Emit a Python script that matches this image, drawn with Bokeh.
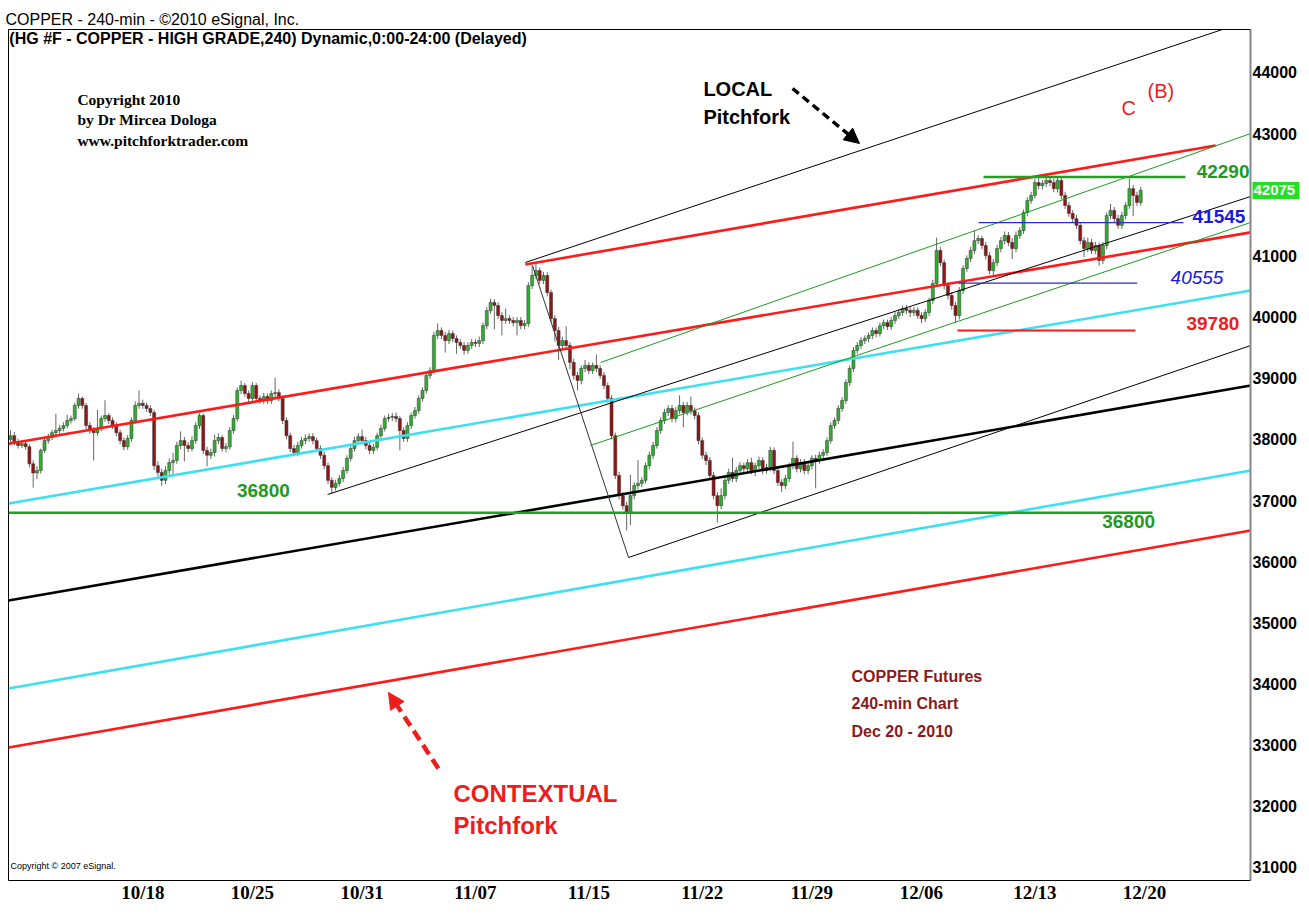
from bokeh.plotting import figure
from bokeh.models import Label, Arrow, NormalHead, FixedTicker, Range1d, LinearAxis
from bokeh.embed import file_html
from bokeh.resources import INLINE

# ---------------- data ----------------
tick_positions = [35, 64, 93, 123, 153, 183, 212, 241, 271, 300]
tick_labels = ["10/18", "10/25", "10/31", "11/07", "11/15", "11/22", "11/29", "12/06", "12/13", "12/20"]
price_ticks = [31000, 32000, 33000, 34000, 35000, 36000, 37000, 38000, 39000, 40000, 41000, 42000, 43000, 44000]

opens = [
    38000, 38060, 37960, 37900, 37930, 37880, 37600, 37450, 37490, 37820,
    37980, 38030, 38110, 38145, 38180, 38225, 38310, 38340, 38555, 38670,
    38555, 38225, 38145, 38110, 38180, 38340, 38390, 38310, 38225, 38110,
    37980, 37880, 38015, 38310, 38555, 38590, 38555, 38505, 38440, 37570,
    37460, 37330, 37490, 37620, 37655, 37900, 37980, 37900, 37850, 37980,
    38225, 38390, 37820, 37740, 37785, 37980, 38030, 37850, 37880, 38145,
    38340, 38800, 38880, 38750, 38670, 38880, 38670, 38635, 38700, 38635,
    38750, 38765, 38670, 38310, 38060, 37850, 37785, 37900, 37980, 38015,
    38045, 37980, 37850, 37740, 37570, 37330, 37215, 37280, 37360, 37490,
    37690, 37850, 37980, 38045, 37980, 37900, 37820, 37870, 38060, 38180,
    38340, 38360, 38375, 38340, 38145, 38015, 38225, 38390, 38470, 38670,
    38800, 39045, 39125, 39700, 39780, 39700, 39615, 39730, 39650, 39585,
    39535, 39455, 39535, 39585, 39570, 39615, 39860, 40105, 40240, 40190,
    40025, 39945, 39975, 39945, 39910, 39945, 39860, 39895, 40515, 40680,
    40760, 40600, 40680, 40400, 39975, 39780, 39535, 39615, 39535, 39260,
    39045, 38965, 39160, 39210, 39125, 39210, 39160, 39045, 38880, 38670,
    38060, 37410, 37080, 36915, 36790, 37080, 37245, 37280, 37330, 37570,
    37740, 37900, 38145, 38310, 38440, 38505, 38340, 38470, 38555, 38440,
    38555, 38470, 38390, 37980, 37740, 37655, 37410, 37080, 36915, 37080,
    37330, 37460, 37360, 37490, 37570, 37520, 37620, 37490, 37570, 37655,
    37490, 37540, 37820, 37490, 37295, 37245, 37360, 37570, 37690, 37520,
    37620, 37490, 37570, 37690, 37655, 37740, 37785, 37980, 38225, 38310,
    38505, 38635, 38930, 39160, 39455, 39535, 39615, 39650, 39700, 39780,
    39730, 39860, 39910, 39845, 39945, 40025, 40075, 40140, 40110, 40075,
    40110, 40025, 39975, 40075, 40270, 40550, 41090, 40890, 40515, 40355,
    40190, 40025, 40435, 40795, 40960, 41090, 41250, 41285, 41170, 41005,
    40760, 40890, 41120, 41250, 41335, 41220, 41120, 41335, 41415, 41710,
    41905, 41990, 42200, 42150, 42185, 42235, 42200, 42100, 42235, 41990,
    41825, 41695, 41610, 41500, 41250, 41120, 41220, 41090, 41170, 40925,
    41170, 41660, 41745, 41610, 41500, 41660, 41825, 42100, 41990, 41875,
]
closes = [
    38060, 37960, 37900, 37930, 37880, 37600, 37450, 37490, 37820, 37980,
    38030, 38110, 38145, 38180, 38225, 38310, 38340, 38555, 38670, 38555,
    38225, 38145, 38110, 38180, 38340, 38390, 38310, 38225, 38110, 37980,
    37880, 38015, 38310, 38555, 38590, 38555, 38505, 38440, 37570, 37460,
    37330, 37490, 37620, 37655, 37900, 37980, 37900, 37850, 37980, 38225,
    38390, 37820, 37740, 37785, 37980, 38030, 37850, 37880, 38145, 38340,
    38800, 38880, 38750, 38670, 38880, 38670, 38635, 38700, 38635, 38750,
    38765, 38670, 38310, 38060, 37850, 37785, 37900, 37980, 38015, 38045,
    37980, 37850, 37740, 37570, 37330, 37215, 37280, 37360, 37490, 37690,
    37850, 37980, 38045, 37980, 37900, 37820, 37870, 38060, 38180, 38340,
    38360, 38375, 38340, 38145, 38015, 38225, 38390, 38470, 38670, 38800,
    39045, 39125, 39700, 39780, 39700, 39615, 39730, 39650, 39585, 39535,
    39455, 39535, 39585, 39570, 39615, 39860, 40105, 40240, 40190, 40025,
    39945, 39975, 39945, 39910, 39945, 39860, 39895, 40515, 40680, 40760,
    40600, 40680, 40400, 39975, 39780, 39535, 39615, 39535, 39260, 39045,
    38965, 39160, 39210, 39125, 39210, 39160, 39045, 38880, 38670, 38060,
    37410, 37080, 36915, 36790, 37080, 37245, 37280, 37330, 37570, 37740,
    37900, 38145, 38310, 38440, 38505, 38340, 38470, 38555, 38440, 38555,
    38470, 38390, 37980, 37740, 37655, 37410, 37080, 36915, 37080, 37330,
    37460, 37360, 37490, 37570, 37520, 37620, 37490, 37570, 37655, 37490,
    37540, 37820, 37490, 37295, 37245, 37360, 37570, 37690, 37520, 37620,
    37490, 37570, 37690, 37655, 37740, 37785, 37980, 38225, 38310, 38505,
    38635, 38930, 39160, 39455, 39535, 39615, 39650, 39700, 39780, 39730,
    39860, 39910, 39845, 39945, 40025, 40075, 40140, 40110, 40075, 40110,
    40025, 39975, 40075, 40270, 40550, 41090, 40890, 40515, 40355, 40190,
    40025, 40435, 40795, 40960, 41090, 41250, 41285, 41170, 41005, 40760,
    40890, 41120, 41250, 41335, 41220, 41120, 41335, 41415, 41710, 41905,
    41990, 42200, 42150, 42185, 42235, 42200, 42100, 42235, 41990, 41825,
    41695, 41610, 41500, 41250, 41120, 41220, 41090, 41170, 40925, 41170,
    41660, 41745, 41610, 41500, 41660, 41825, 42100, 41990, 41875, 42075,
]
highs = [
    38150, 38120, 38010, 37990, 37980, 37920, 37660, 37560, 37850, 38040,
    38090, 38160, 38420, 38240, 38280, 38400, 38390, 38600, 38750, 38700,
    38600, 38280, 38200, 38480, 38390, 38640, 38430, 38360, 38280, 38160,
    38030, 38070, 38360, 38620, 38800, 38650, 38600, 38560, 38480, 37640,
    37520, 37560, 37690, 37780, 37960, 38130, 38040, 37960, 38050, 38280,
    38430, 38420, 37880, 37850, 38080, 38100, 38070, 37940, 38200, 38400,
    38850, 38960, 38920, 38800, 38940, 38920, 38720, 38760, 38750, 38800,
    39010, 38820, 38720, 38360, 38110, 37910, 37960, 38040, 38080, 38100,
    38100, 38030, 37900, 37800, 37620, 37380, 37340, 37420, 37550, 37740,
    37900, 38040, 38100, 38160, 38040, 37960, 37930, 38110, 38240, 38390,
    38420, 38430, 38440, 38380, 38200, 38280, 38440, 38530, 38720, 38850,
    39100, 39180, 39760, 39895, 39830, 39760, 39790, 39780, 39700, 39640,
    39590, 39590, 39640, 39640, 39680, 39910, 40160, 40300, 40290, 40240,
    40080, 40140, 40030, 40000, 40000, 40000, 39950, 40570, 40840, 40890,
    40810, 40740, 40730, 40450, 40030, 39840, 39680, 39850, 39590, 39320,
    39100, 39210, 39300, 39260, 39260, 39390, 39210, 39100, 38930, 38720,
    38110, 37470, 37140, 36980, 37420, 37300, 37660, 37380, 37620, 37800,
    37960, 38200, 38360, 38500, 38560, 38560, 38530, 38720, 38610, 38610,
    38700, 38520, 38440, 38030, 37800, 37710, 37470, 37140, 37200, 37380,
    37520, 37700, 37550, 37630, 37620, 37680, 37700, 37620, 37720, 37710,
    37600, 37880, 37870, 37540, 37350, 37420, 37620, 37960, 37740, 37680,
    37680, 37630, 37740, 37750, 37800, 37840, 38030, 38280, 38360, 38560,
    38690, 38980, 39210, 39510, 39590, 39670, 39700, 39750, 39830, 39830,
    39910, 39960, 39960, 40000, 40080, 40130, 40190, 40200, 40160, 40160,
    40160, 40080, 40130, 40320, 40610, 41300, 41150, 40940, 40570, 40410,
    40250, 40490, 40850, 41010, 41150, 41420, 41340, 41330, 41230, 41060,
    40950, 41180, 41310, 41400, 41390, 41290, 41400, 41470, 41760, 41960,
    42050, 42260, 42290, 42240, 42315, 42290, 42260, 42310, 42290, 42050,
    41880, 41750, 41670, 41550, 41310, 41300, 41280, 41230, 41220, 41230,
    41710, 41850, 41800, 41670, 41720, 41880, 42265, 42160, 42050, 42130,
]
lows = [
    37940, 37900, 37850, 37860, 37830, 37540, 37210, 37350, 37440, 37780,
    37930, 37990, 38060, 38090, 38130, 38180, 38260, 38300, 38500, 38500,
    38170, 38090, 37655, 38060, 38130, 38290, 38250, 38170, 38050, 37920,
    37820, 37830, 37960, 38260, 38500, 38500, 38450, 38380, 37500, 37390,
    37240, 37270, 37420, 37420, 37600, 37840, 37640, 37790, 37800, 37930,
    38170, 37760, 37560, 37680, 37720, 37920, 37800, 37790, 37830, 38090,
    38290, 38740, 38700, 38610, 38620, 38610, 38580, 38580, 38580, 38580,
    38690, 38620, 38250, 38000, 37790, 37720, 37730, 37850, 37920, 37960,
    37920, 37790, 37680, 37510, 37270, 37115, 37160, 37230, 37300, 37440,
    37640, 37800, 37930, 37920, 37840, 37760, 37760, 37820, 38000, 38130,
    38290, 38300, 38280, 37820, 37960, 37960, 38170, 38340, 38420, 38620,
    38750, 38990, 39080, 39640, 39640, 39420, 39560, 39590, 39400, 39480,
    39390, 39400, 39480, 39510, 39510, 39560, 39800, 40050, 39800, 39970,
    39700, 39890, 39890, 39850, 39700, 39800, 39800, 39840, 40460, 40620,
    40540, 40540, 40340, 39920, 39600, 39300, 39480, 39480, 39150, 38980,
    38800, 38900, 39100, 39070, 39070, 39100, 38990, 38820, 38600, 38000,
    37350, 37020, 36850, 36510, 36600, 37020, 37180, 37220, 37280, 37510,
    37680, 37850, 38090, 38250, 38380, 38280, 38280, 38410, 38200, 38390,
    38410, 38330, 37920, 37680, 37580, 37350, 37020, 36640, 36860, 37020,
    37270, 37300, 37300, 37430, 37460, 37460, 37430, 37400, 37510, 37430,
    37440, 37480, 37430, 37240, 37140, 37190, 37300, 37510, 37460, 37460,
    37430, 37430, 37510, 37200, 37600, 37690, 37730, 37930, 38170, 38250,
    38450, 38580, 38870, 39100, 39400, 39480, 39560, 39590, 39640, 39670,
    39680, 39800, 39790, 39790, 39890, 39970, 40020, 40050, 40000, 40020,
    39970, 39900, 39920, 40020, 40210, 40500, 40830, 40450, 40290, 40120,
    39910, 39960, 40380, 40740, 40900, 41030, 41190, 41110, 40940, 40700,
    40660, 40830, 41060, 41190, 41160, 40950, 41060, 41280, 41360, 41650,
    41850, 41940, 42090, 42090, 42130, 42140, 42040, 42040, 41930, 41770,
    41640, 41550, 41440, 41190, 40980, 41060, 41030, 41030, 40840, 40870,
    41110, 41600, 41550, 41440, 41440, 41600, 41770, 41650, 41820, 41820,
]

# trend lines: (x0 bar, y0 price, x1 bar, y1 price)
contextual_median = [-0.5, 35365, 328.1, 38881]
contextual_upper = [-0.5, 37930, 328.1, 41385]
contextual_lower = [-0.5, 32960, 328.1, 36510]
cyan_upper = [-0.5, 36951, 328.1, 40435]
cyan_lower = [-0.5, 33926, 328.1, 37491]
red_warning = [136.2, 40860, 318.8, 42806]
local_upper = [136.2, 40893, 320.6, 44703]
local_median = [83.9, 37099, 328.1, 41972]
local_lower = [163.5, 36068, 328.1, 39535]
local_pivot = [138.1, 40843, 163.5, 36068]
green_upper = [156.1, 39257, 328.1, 43002]
green_lower = [153.4, 37900, 328.1, 41547]
levels = {"36800": (36800, -0.5, 302.1), "42290": (42290, 257.4, 310.8),
          "41545": (41545, 256.1, 310.3), "40555": (40555, 250.8, 298.1),
          "39780": (39780, 250.5, 297.6)}
last_price = 42075

# ---------------- figure ----------------
FONT = "Liberation Sans"
p = figure(width=1305, height=915, output_backend="svg", toolbar_location=None,
           x_range=Range1d(-0.53, 328.04), y_range=Range1d(30786, 44703),
           y_axis_location="right", min_border_left=8, min_border_right=55,
           min_border_top=29, min_border_bottom=35)
p.grid.visible = False
p.outline_line_color = "black"
p.outline_line_width = 1

p.title.text = "COPPER - 240-min - \u00a92010 eSignal, Inc."
p.title.text_font = FONT
p.title.text_font_size = "16px"
p.title.text_font_style = "normal"
p.title.text_color = "black"
p.title.align = "left"
p.title.offset = -3
p.title.standoff = 4

xa = p.xaxis[0]
xa.ticker = FixedTicker(ticks=tick_positions)
xa.major_label_overrides = {t: l for t, l in zip(tick_positions, tick_labels)}
xa.major_tick_in = 0
xa.major_tick_out = 0
xa.minor_tick_in = 0
xa.minor_tick_out = 0
xa.axis_line_color = None
xa.major_label_standoff = 1
xa.major_label_text_font = "Liberation Sans Narrow"
xa.major_label_text_font_style = "bold"
xa.major_label_text_font_size = "19px"
xa.major_label_text_color = "black"

ya = p.yaxis[0]
ya.ticker = FixedTicker(ticks=price_ticks)
ya.major_label_overrides = {42000: ""}
ya.major_tick_in = 0
ya.major_tick_out = 0
ya.minor_tick_in = 0
ya.minor_tick_out = 0
ya.axis_line_color = "#888888"
ya.axis_line_width = 2
ya.major_label_standoff = 2
ya.major_label_text_font = FONT
ya.major_label_text_font_style = "bold"
ya.major_label_text_font_size = "16px"
ya.major_label_text_color = "black"

# last-price marker: an outer price axis whose single tick is drawn back
# over the price scale as a green box, with its label inside it
lp = LinearAxis(ticker=FixedTicker(ticks=[last_price]))
lp.axis_line_color = None
lp.minor_tick_in = 0
lp.minor_tick_out = 0
lp.major_tick_out = 0
lp.major_tick_in = 47
lp.major_tick_line_color = "#22e022"
lp.major_tick_line_width = 17
lp.major_label_standoff = -46
lp.major_label_text_font = FONT
lp.major_label_text_font_style = "bold"
lp.major_label_text_font_size = "15px"
lp.major_label_text_color = "white"
p.add_layout(lp, "right")

# candles
idx = list(range(len(closes)))
tops = [max(o, c) for o, c in zip(opens, closes)]
bots = [min(o, c) for o, c in zip(opens, closes)]
cols = ["#2fb02f" if c >= o else "#8e1616" for o, c in zip(opens, closes)]
p.segment(x0=idx, y0=lows, x1=idx, y1=highs, line_color="#666666", line_width=1)
p.vbar(x=idx, width=0.8, top=tops, bottom=bots, fill_color=cols,
       line_color="#333333", line_width=0.5)

def seg(c, color, width):
    p.line([c[0], c[2]], [c[1], c[3]], line_color=color, line_width=width)

seg(contextual_median, "black", 2.6)
seg(contextual_upper, "#ff1a1a", 2.6)
seg(contextual_lower, "#ff1a1a", 2.6)
seg(cyan_upper, "#3ce0f0", 2.6)
seg(cyan_lower, "#3ce0f0", 2.6)
seg(red_warning, "#ff1a1a", 2.6)
seg(local_upper, "black", 1)
seg(local_median, "black", 1)
seg(local_lower, "black", 1)
seg(local_pivot, "#333333", 1)
seg(green_upper, "#1f9a1f", 1)
seg(green_lower, "#1f9a1f", 1)

lvl_style = {"36800": ("#1fa31f", 2.5), "42290": ("#1fa31f", 2.5), "41545": ("#2a2acc", 1.2),
             "40555": ("#2a2acc", 1.2), "39780": ("#ff1a1a", 2)}
for k, (yv, x0, x1) in levels.items():
    col, w = lvl_style[k]
    p.line([x0, x1], [yv, yv], line_color=col, line_width=w)

def lab(x, y, text, size, color="black", style="bold", align="left", font=FONT):
    p.add_layout(Label(x=x, y=y, text=text, text_font=font, text_font_size=size,
                       text_font_style=style, text_color=color, text_align=align,
                       text_baseline="middle"))

GREEN = "#1f9a1f"
BLUE = "#1a1ad8"
RED = "#ee1c1c"
DARKRED = "#8b1a1a"

lab(-0.3, 44556, "(HG #F - COPPER - HIGH GRADE,240) Dynamic,0:00-24:00 (Delayed)", "16px")
lab(17.7, 43558, "Copyright 2010", "15.5px", font="Liberation Serif")
lab(17.7, 43231, "by Dr Mircea Dologa", "15.5px", font="Liberation Serif")
lab(17.7, 42888, "www.pitchforktrader.com", "15.5px", font="Liberation Serif")
lab(183.3, 43738, "LOCAL", "20px")
lab(183.3, 43280, "Pitchfork", "20px")
lab(295.8, 43427, "C", "20px", color=RED, style="normal", align="center")
lab(300.8, 43705, "(B)", "20px", color=RED, style="normal")
lab(222.5, 34123, "COPPER Futures", "16px", color=DARKRED)
lab(222.5, 33681, "240-min Chart", "16px", color=DARKRED)
lab(222.5, 33223, "Dec 20 - 2010", "16px", color=DARKRED)
lab(117.2, 32209, "CONTEXTUAL", "24px", color=RED)
lab(117.2, 31686, "Pitchfork", "24px", color=RED)
lab(0.0, 31015, "Copyright \u00a9 2007 eSignal.", "9px", style="normal")
lab(66.9, 37164, "36800", "19px", color=GREEN, align="center")
lab(295.8, 36657, "36800", "19px", color=GREEN, align="center")
lab(313.8, 42381, "42290", "19px", color=GREEN)
lab(312.7, 41645, "41545", "19px", color=BLUE)
lab(306.9, 40647, "40555", "19px", color=BLUE, style="italic")
lab(311.1, 39895, "39780", "19px", color=RED)

p.add_layout(Arrow(end=NormalHead(size=15, fill_color="black", line_color="black"),
                   x_start=206.9, y_start=43738, x_end=224.6, y_end=42839,
                   line_width=3.5, line_dash="8 5", line_color="black"))
p.add_layout(Arrow(end=NormalHead(size=16, fill_color=RED, line_color=RED),
                   x_start=113.2, y_start=32618, x_end=100.0, y_end=33861,
                   line_width=4.5, line_dash="11 6", line_color=RED))

open("out.html", "w").write(file_html(p, INLINE))
